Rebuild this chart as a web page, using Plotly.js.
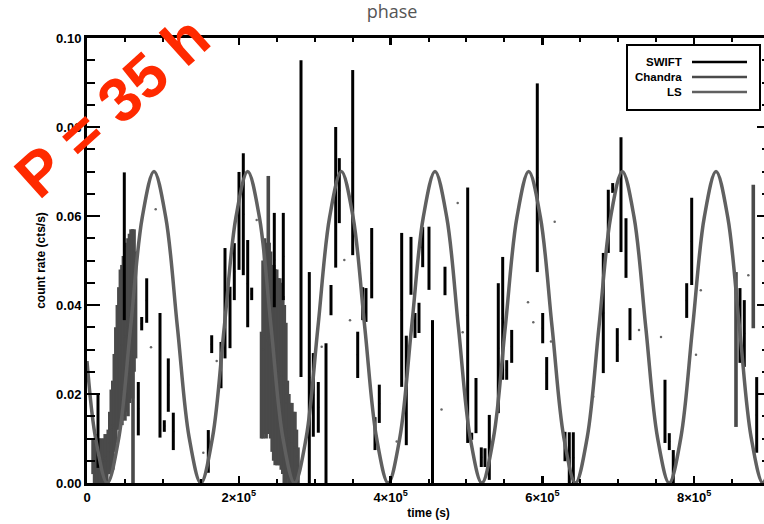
<!DOCTYPE html>
<html>
<head>
<meta charset="utf-8">
<script src="https://cdn.plot.ly/plotly-3.0.1.min.js"></script>
<style>
  html, body { margin: 0; padding: 0; background: #fff; overflow: hidden; }
  #plot { width: 771px; height: 524px; }
</style>
</head>
<body>
<div id="plot"></div>
<script>
// ---- Lomb-Scargle model curve ----
const lsTime = [0, 11146, 26575, 42004, 57433, 72861, 88290, 103719, 119148, 134576, 150005, 165434, 180863, 196291, 211720, 227149, 242578, 258006, 273435, 288864, 304293, 319721, 335150, 350579, 366008, 381436, 396865, 412294, 427723, 443151, 458580, 474009, 489438, 504866, 520295, 535724, 551153, 566581, 582010, 597439, 612868, 628296, 643725, 659154, 674583, 690011, 705440, 720869, 736298, 751726, 767155, 782584, 798013, 813441, 828870, 844299, 859728, 875156, 890585, 900000];
const lsRate = [0.0274,
  0.01025, 0, 0.01025, 0.035, 0.05975,
  0.07, 0.05975, 0.035, 0.01025, 0, 0.01025, 0.035, 0.05975,
  0.07, 0.05975, 0.035, 0.01025, 0, 0.01025, 0.035, 0.05975,
  0.07, 0.05975, 0.035, 0.01025, 0, 0.01025, 0.035, 0.05975,
  0.07, 0.05975, 0.035, 0.01025, 0, 0.01025, 0.035, 0.05975,
  0.07, 0.05975, 0.035, 0.01025, 0, 0.01025, 0.035, 0.05975,
  0.07, 0.05975, 0.035, 0.01025, 0, 0.01025, 0.035, 0.05975,
  0.07, 0.05975, 0.035, 0.01025, 0,
  0.00396];

// ---- Chandra light curve ----
const chandraTime = [8000, 10000, 12000, 14000, 16000, 18000, 20000, 22000, 24000, 26000, 28000, 30000, 32000, 34000, 36000, 38000, 40000, 42000, 44000, 46000, 48000, 50000, 52000, 54000, 56000, 58000, 60000, 60614, 62000, 64000,
  230000, 232000, 234000, 236000, 238000, 238901, 240000, 242000, 244000, 246000, 248000, 250000, 252000, 254000, 256000, 258000, 260000, 262000, 264000, 266000, 268000, 270000, 272000, 274000, 276000, 278000,
  855180, 877985];
const chandraRate = [0.006, 0.005, 0.006, 0.005, 0.005, 0.005, 0.005, 0.005, 0.006, 0.005, 0.007, 0.009, 0.012, 0.013, 0.018, 0.022, 0.026, 0.028, 0.031, 0.031, 0.033, 0.033, 0.035, 0.035, 0.037, 0.039, 0.038, 0.0284, 0.041, 0.040,
  0.022, 0.030, 0.033, 0.032, 0.032, 0.060, 0.033, 0.031, 0.028, 0.027, 0.026, 0.026, 0.025, 0.025, 0.024, 0.022, 0.020, 0.018, 0.012, 0.010, 0.009, 0.009, 0.008, 0.008, 0.006, 0.004,
  0.0300, 0.0509];
const chandraErr = [0.004, 0.005, 0.005, 0.005, 0.005, 0.005, 0.005, 0.005, 0.005, 0.005, 0.005, 0.007, 0.009, 0.010, 0.011, 0.013, 0.014, 0.016, 0.017, 0.018, 0.018, 0.019, 0.019, 0.020, 0.019, 0.018, 0.019, 0.0284, 0.016, 0.012,
  0.012, 0.020, 0.022, 0.022, 0.021, 0.009, 0.021, 0.021, 0.021, 0.022, 0.022, 0.022, 0.021, 0.021, 0.021, 0.020, 0.020, 0.018, 0.011, 0.010, 0.009, 0.009, 0.008, 0.008, 0.006, 0.004,
  0.0174, 0.0161];

// ---- SWIFT light curve ----
const swiftTime = [14495, 49150, 67598, 72078, 78667, 96192, 101858, 107129, 113718, 159837, 164317, 176572, 181843, 188431, 194097, 200290, 205956, 211754, 217025, 246804, 258663, 281988, 292925, 298196, 304784, 314931, 321519, 327712, 332456, 350113, 356701, 363290, 367638, 375148, 379496, 385163, 414678, 420740, 426933, 432204, 437474, 442350, 450651, 455263, 471735, 501647, 506918, 512584, 519568, 524443, 530109, 541968, 547766, 553037, 559625, 593358, 600474, 605745, 629861, 635527, 640798, 680329, 686917, 692715, 698777, 703652, 710241, 715511, 761631, 767297, 772568, 790225, 796814, 860458, 866124, 882463];
const swiftRate = [0.0118, 0.0532, 0.0167, 0.0358, 0.0410, 0.0242, 0.0128, 0.0220, 0.0116, 0.0071, 0.0312, 0.0265, 0.0404, 0.0372, 0.0475, 0.0589, 0.0604, 0.0448, 0.0425, 0.0501, 0.0509, 0.0594, 0.0237, 0.0198, 0.0170, 0.0157, 0.0411, 0.0642, 0.0657, 0.0720, 0.0288, 0.0403, 0.0400, 0.0494, 0.0111, 0.0178, 0.0389, 0.0208, 0.0488, 0.0354, 0.0371, 0.0530, 0.0505, 0.0183, 0.0454, 0.0377, 0.0105, 0.0174, 0.0058, 0.0057, 0.0080, 0.0303, 0.0370, 0.0254, 0.0307, 0.0686, 0.0348, 0.0246, 0.0082, 0.0057, 0.0057, 0.0382, 0.0588, 0.0663, 0.0310, 0.0648, 0.0528, 0.0357, 0.0161, 0.0093, 0.0037, 0.0410, 0.0543, 0.0354, 0.0336, 0.0153];
const swiftErr = [0.0084, 0.0166, 0.0060, 0.0015, 0.0050, 0.0140, 0.0013, 0.0060, 0.0042, 0.0048, 0.0020, 0.0052, 0.0124, 0.0069, 0.0064, 0.0110, 0.0137, 0.0098, 0.0014, 0.0106, 0.0098, 0.0356, 0.0237, 0.0094, 0.0057, 0.0157, 0.0034, 0.0158, 0.0073, 0.0208, 0.0052, 0.0037, 0.0038, 0.0079, 0.0037, 0.0043, 0.0173, 0.0123, 0.0065, 0.0028, 0.0034, 0.0045, 0.0071, 0.0183, 0.0032, 0.0287, 0.0008, 0.0062, 0.0022, 0.0021, 0.0073, 0.0146, 0.0138, 0.0022, 0.0037, 0.0212, 0.0034, 0.0037, 0.0033, 0.0057, 0.0057, 0.0135, 0.0071, 0.0011, 0.0038, 0.0129, 0.0067, 0.0036, 0.0071, 0.0019, 0.0037, 0.0039, 0.0098, 0.0084, 0.0075, 0.0085];

// isolated points without visible error bars
const dotTime = [84333, 90526, 153248, 170906, 223614, 309260, 339041, 346551, 408087, 467127, 488470, 495059, 581104, 588088, 611413, 616288, 667152, 727368, 756357, 808802, 802477, 871400];
const dotRate = [0.0305, 0.0615, 0.0068, 0.0274, 0.0591, 0.0306, 0.0501, 0.0366, 0.0093, 0.0165, 0.0629, 0.0339, 0.0406, 0.0361, 0.0318, 0.0587, 0.0194, 0.0344, 0.0328, 0.0433, 0.0288, 0.0467];

// ---- ticks and labels ----
const xTickVals = [0, 200000, 400000, 600000, 800000];
const xTickText = ['0', '2×10<sup>5</sup>', '4×10<sup>5</sup>', '6×10<sup>5</sup>', '8×10<sup>5</sup>'];
const yTickVals = [0, 0.02, 0.04, 0.06, 0.08, 0.10];
const yTickText = ['0.00', '0.02', '0.04', '0.06', '0.08', '0.10'];
const legendNames = ['SWIFT', 'Chandra', 'LS'];
const legendColors = ['#000000', '#4a4a4a', '#606060'];

const boldFont = {family: 'Liberation Sans, Arial, sans-serif', size: 13, color: '#000', weight: 'bold'};
const titleFont = {family: 'Liberation Sans, Arial, sans-serif', size: 12, color: '#000', weight: 'bold'};

const traces = [
  {
    x: chandraTime, y: chandraRate, type: 'scatter', mode: 'markers', name: 'Chandra',
    marker: {size: 2, color: legendColors[1]},
    error_y: {type: 'data', array: chandraErr, visible: true, color: legendColors[1], thickness: 3.6, width: 0},
    showlegend: false, hoverinfo: 'skip'
  },
  {
    x: swiftTime, y: swiftRate, type: 'scatter', mode: 'markers', name: 'SWIFT',
    marker: {size: 2, color: legendColors[0]},
    error_y: {type: 'data', array: swiftErr, visible: true, color: legendColors[0], thickness: 3, width: 0},
    showlegend: false
  },
  {
    x: dotTime, y: dotRate, type: 'scatter', mode: 'markers', name: 'SWIFT points',
    marker: {size: 2.5, color: '#666'}, showlegend: false
  },
  {
    x: lsTime, y: lsRate, type: 'scatter', mode: 'lines', name: 'LS',
    line: {color: legendColors[2], width: 3.5, shape: 'spline', smoothing: 1},
    showlegend: false
  }
];

// manual IDL-style legend (text left of the line sample)
const px2x = p => (p - 87) / 683;
const py2y = p => (483 - p) / 445;
const legendY = [62, 77, 92];
const shapes = [
  {type: 'rect', xref: 'paper', yref: 'paper', x0: px2x(627), x1: px2x(760), y0: py2y(110), y1: py2y(45),
   line: {color: '#000', width: 2}, fillcolor: '#fff', layer: 'above'}
];
const annotations = [];
legendNames.forEach((n, i) => {
  shapes.push({type: 'line', xref: 'paper', yref: 'paper', x0: px2x(692), x1: px2x(747),
    y0: py2y(legendY[i]), y1: py2y(legendY[i]), line: {color: legendColors[i], width: 2.5}, layer: 'above'});
  annotations.push({xref: 'paper', yref: 'paper', x: px2x(684), y: py2y(legendY[i]), xanchor: 'right', yanchor: 'middle',
    text: n, showarrow: false, font: {family: 'Liberation Sans, Arial, sans-serif', size: 11.5, color: '#000', weight: 'bold'}});
});
annotations.push({
  xref: 'paper', yref: 'paper', x: px2x(112), y: py2y(107), xanchor: 'center', yanchor: 'middle',
  text: 'P = 35 h', showarrow: false, textangle: -42,
  font: {family: 'Liberation Sans, Arial, sans-serif', size: 62, color: '#ff2a00', weight: 'bold'}
});

const layout = {
  width: 771, height: 524, autosize: false,
  paper_bgcolor: '#fff', plot_bgcolor: '#fff',
  margin: {l: 87, r: 1, t: 38, b: 41, pad: 0},
  title: {text: 'phase', font: {family: 'Open Sans, sans-serif', size: 18, color: '#555'},
          xref: 'container', x: 392 / 771, xanchor: 'center', yref: 'container', y: 1 - 12 / 524, yanchor: 'middle'},
  xaxis: {
    range: [0, 900000], showgrid: false, zeroline: false,
    showline: true, linecolor: '#000', linewidth: 3, mirror: 'ticks',
    ticks: 'inside', ticklen: 7, tickwidth: 2.5, tickcolor: '#000',
    tickvals: xTickVals, ticktext: xTickText, tickfont: boldFont,
    minor: {ticks: 'inside', dtick: 50000, ticklen: 4, tickwidth: 2, tickcolor: '#000', showgrid: false},
    title: {text: 'time (s)', font: titleFont, standoff: 6}
  },
  yaxis: {
    range: [0, 0.1], showgrid: false, zeroline: false,
    showline: true, linecolor: '#000', linewidth: 3, mirror: 'ticks',
    ticks: 'inside', ticklen: 13, tickwidth: 2.5, tickcolor: '#000',
    tickvals: yTickVals, ticktext: yTickText, tickfont: boldFont,
    minor: {ticks: 'inside', dtick: 0.005, ticklen: 8, tickwidth: 2, tickcolor: '#000', showgrid: false},
    title: {text: 'count rate (cts/s)', font: titleFont, standoff: 8}
  },
  shapes: shapes,
  annotations: annotations,
  showlegend: false
};

Plotly.newPlot('plot', traces, layout, {displayModeBar: false, staticPlot: true});
</script>
</body>
</html>
